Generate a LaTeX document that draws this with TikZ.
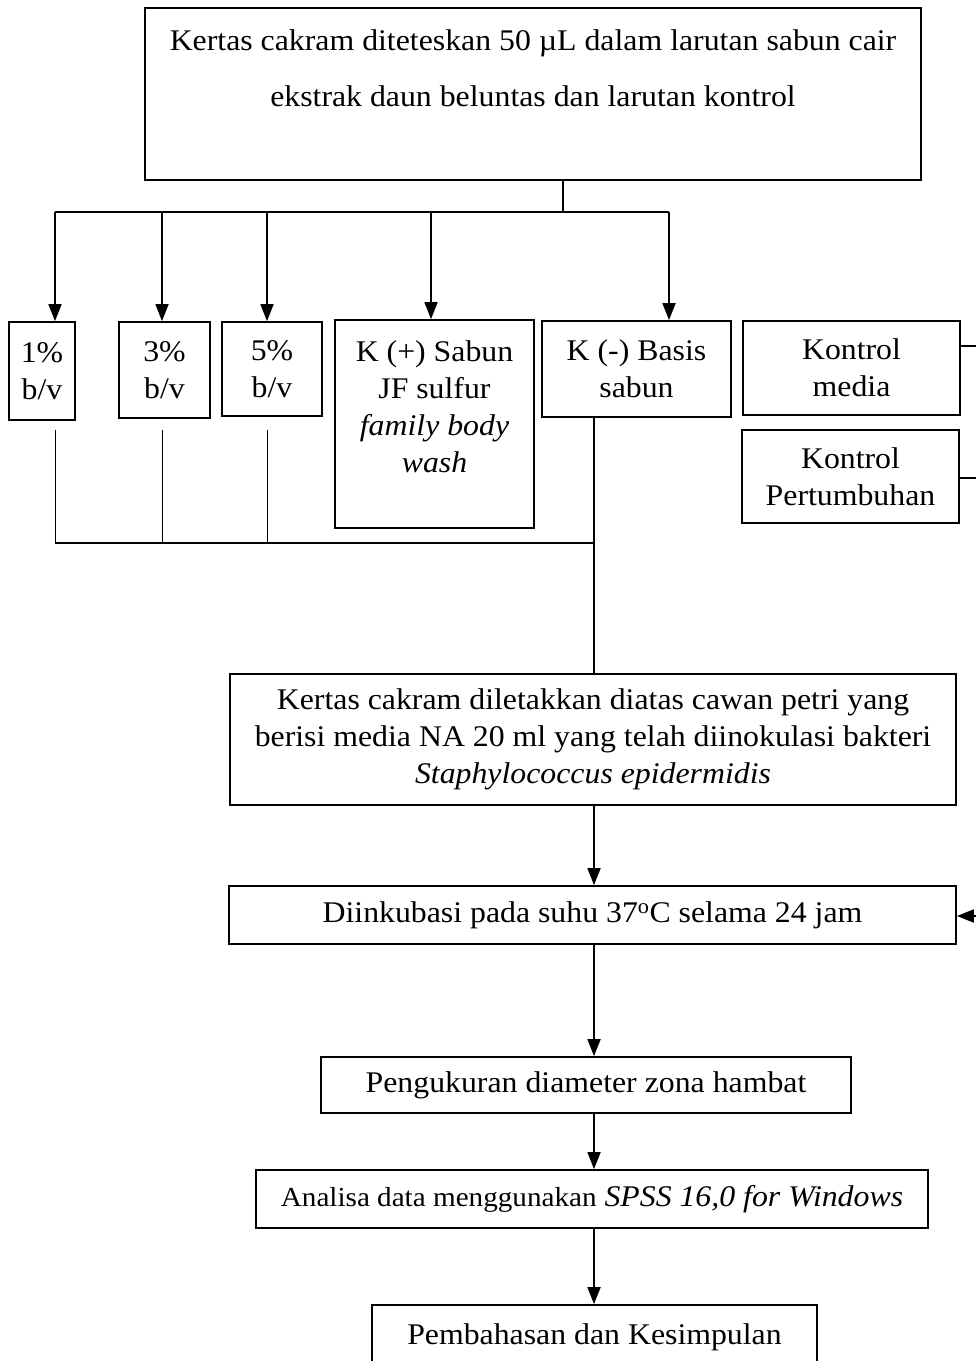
\documentclass[tikz,border=0pt]{standalone}
\usepackage{fontspec}
\setmainfont{Liberation Serif}[FakeStretch=1.06]
\usetikzlibrary{arrows.meta}
\begin{document}
\begin{tikzpicture}[x=1pt,y=-1pt,
  box/.style={draw, line width=1.8pt, inner sep=0pt, align=center, font=\fontsize{30}{37}\selectfont},
  txt/.style={inner sep=0pt, align=center, font=\fontsize{30}{37}\selectfont},
  arr/.style={line width=1.8pt, -{Triangle[length=17pt,width=13pt]}},
  ln/.style={line width=1.8pt},
  thinln/.style={line width=1pt}]
\useasboundingbox (0,0) rectangle (976,1361);
\clip (0,0) rectangle (976,1361);
\fill[white] (0,0) rectangle (976,1361);
% boxes
\node[box, minimum width=776pt, minimum height=172pt] (top) at (533,94) {};
\node[txt, font=\fontsize{30}{56}\selectfont] (toptext) at (533,68) {Kertas cakram diteteskan 50 µL dalam larutan sabun cair\\ekstrak daun beluntas dan larutan kontrol};
\node[box, minimum width=66pt, minimum height=98pt] (b1) at (42,371) {1\%\\b/v};
\node[box, minimum width=91pt, minimum height=96pt] (b3) at (164.5,370) {3\%\\b/v};
\node[box, minimum width=100pt, minimum height=94pt] (b5) at (272,369) {5\%\\b/v};
\node[box, minimum width=199pt, minimum height=208pt] (kp) at (434.5,424) {};
\node[txt] (kptext) at (434.5,406.5) {K (+) Sabun\\JF sulfur\\\textit{family body}\\\textit{wash}};
\node[box, minimum width=189pt, minimum height=96pt] (km) at (636.5,369) {K (-) Basis\\sabun};
\node[box, minimum width=217pt, minimum height=94pt] (kmed) at (851.5,368) {Kontrol\\media};
\node[box, minimum width=217pt, minimum height=93pt] (kpert) at (850.5,476.5) {Kontrol\\Pertumbuhan};
\node[box, minimum width=726pt, minimum height=131pt] (plate) at (593,739.5) {Kertas cakram diletakkan diatas cawan petri yang\\berisi media NA 20 ml yang telah diinokulasi bakteri\\\textit{Staphylococcus epidermidis}};
\node[box, minimum width=727pt, minimum height=58pt] (inc) at (592.5,915) {Diinkubasi pada suhu 37\textsuperscript{o}C selama 24 jam};
\node[box, minimum width=530pt, minimum height=56pt] (meas) at (586,1085) {Pengukuran diameter zona hambat};
\node[box, minimum width=672pt, minimum height=58pt] (ana) at (592,1199) {{\fontsize{27.5}{30}\selectfont Analisa data menggunakan} \textit{SPSS 16,0 for Windows}};
\node[box, minimum width=445pt, minimum height=64pt] (disc) at (594.5,1337) {Pembahasan dan Kesimpulan};
% coordinates
\coordinate (j) at (563,212);
\coordinate (a1) at (55,212);
\coordinate (a3) at (162,212);
\coordinate (a5) at (267,212);
\coordinate (ap) at (431,212);
\coordinate (am) at (669,212);
\coordinate (c1) at (55,430);
\coordinate (c3) at (162,430);
\coordinate (c5) at (267,430);
\coordinate (d1) at (55,543);
\coordinate (d3) at (162,543);
\coordinate (d5) at (267,543);
\coordinate (m) at (594,543);
\coordinate (r1) at (976,346);
\coordinate (r2) at (976,478);
\coordinate (r3) at (976,916);
% connectors
\draw[ln] (top.south -| j) -- (j);
\draw[ln] (a1) -- (am);
\draw[arr] (a1) -- (a1 |- b1.north);
\draw[arr] (a3) -- (a3 |- b3.north);
\draw[arr] (a5) -- (a5 |- b5.north);
\draw[arr] (ap) -- (ap |- kp.north);
\draw[arr] (am) -- (am |- km.north);
\draw[thinln] (c1) -- (d1);
\draw[thinln] (c3) -- (d3);
\draw[thinln] (c5) -- (d5);
\draw[ln] (d1) -- (m);
\draw[ln] (km.south -| m) -- (plate.north -| m);
\draw[arr] (plate.south -| m) -- (inc.north -| m);
\draw[arr] (inc.south -| m) -- (meas.north -| m);
\draw[arr] (meas.south -| m) -- (ana.north -| m);
\draw[arr] (ana.south -| m) -- (disc.north -| m);
\draw[ln] (kmed.east |- r1) -- (r1);
\draw[ln] (kpert.east |- r2) -- (r2);
\draw[arr] (r3) -- (inc.east |- r3);
\end{tikzpicture}
\end{document}
